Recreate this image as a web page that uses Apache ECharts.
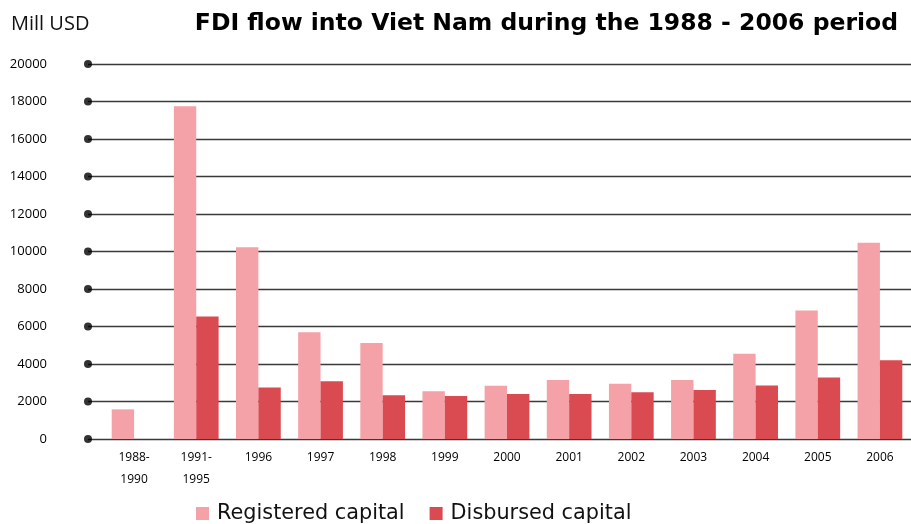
<!DOCTYPE html>
<html>
<head>
<meta charset="utf-8">
<script src="https://cdn.jsdelivr.net/npm/echarts@6/dist/echarts.min.js"></script>
<style>
  html, body { margin: 0; padding: 0; background: #fff; }
  #chart { width: 911px; height: 524px; }
</style>
</head>
<body>
<div id="chart"></div>
<script>
// FDI into Viet Nam, million USD
const periods = ['1988-\n1990', '1991-\n1995', '1996', '1997', '1998', '1999', '2000', '2001', '2002', '2003', '2004', '2005', '2006'];
const registered = [1580, 17750, 10230, 5700, 5120, 2550, 2840, 3150, 2950, 3150, 4550, 6860, 10470];
const disbursed = [null, 6540, 2750, 3080, 2340, 2300, 2400, 2400, 2500, 2620, 2850, 3280, 4200];
const yTicks = [0, 2000, 4000, 6000, 8000, 10000, 12000, 14000, 16000, 18000, 20000];

const PINK = '#F5A1A8';
const RED = '#D94A51';
const FONT = 'Open Sans';

const chart = echarts.init(document.getElementById('chart'));

chart.setOption({
  animation: false,
  backgroundColor: '#fff',
  textStyle: { fontFamily: FONT },
  title: [
    {
      text: 'FDI flow into Viet Nam during the 1988 - 2006 period',
      right: 8, top: 7,
      textStyle: { fontFamily: 'DejaVu Sans', fontWeight: 'bold', fontSize: 23.5, color: '#000' }
    },
    {
      text: 'Mill USD',
      left: 6, top: 9,
      textStyle: { fontFamily: FONT, fontWeight: 'normal', fontSize: 20, color: '#111' }
    }
  ],
  legend: {
    left: 196, top: 503, padding: 0,
    itemWidth: 13, itemHeight: 13, itemGap: 25,
    icon: 'rect',
    textStyle: { fontFamily: 'DejaVu Sans', fontSize: 20.8, color: '#111', padding: [0, 0, 0, 3] },
    data: ['Registered capital', 'Disbursed capital']
  },
  grid: [
    // gridlines, value labels and dots
    { left: 88, right: 0, top: 64, bottom: 85 },
    // bars
    { left: 103, right: -1, top: 64, bottom: 85 }
  ],
  xAxis: [
    { gridIndex: 0, type: 'value', min: 0, max: 1, show: false },
    {
      gridIndex: 1, type: 'category', data: periods,
      axisLine: { show: false }, axisTick: { show: false },
      axisLabel: { color: '#000', fontSize: 12, margin: 8, lineHeight: 22, interval: 0 }
    }
  ],
  yAxis: [
    {
      gridIndex: 0, type: 'value', min: 0, max: 20000, interval: 2000,
      axisLine: { show: false }, axisTick: { show: false },
      axisLabel: { color: '#000', fontSize: 13, margin: 41, padding: [6, 0, 0, 0], formatter: v => String(v) },
      splitLine: { lineStyle: { color: '#3a3a3a', width: 1.4 } }
    },
    { gridIndex: 1, type: 'value', min: 0, max: 20000, interval: 2000, show: false, splitLine: { show: false } }
  ],
  series: [
    {
      type: 'scatter', xAxisIndex: 0, yAxisIndex: 0,
      data: yTicks.map(v => [0, v]),
      symbol: 'circle', symbolSize: 8,
      itemStyle: { color: '#000' },
      clip: false, silent: true, z: 5
    },
    {
      name: 'Registered capital', type: 'bar', xAxisIndex: 1, yAxisIndex: 1,
      data: registered, itemStyle: { color: PINK },
      barGap: '0%', barCategoryGap: '28%'
    },
    {
      name: 'Disbursed capital', type: 'bar', xAxisIndex: 1, yAxisIndex: 1,
      data: disbursed, itemStyle: { color: RED },
      barGap: '0%', barCategoryGap: '28%'
    }
  ]
});
</script>
</body>
</html>
